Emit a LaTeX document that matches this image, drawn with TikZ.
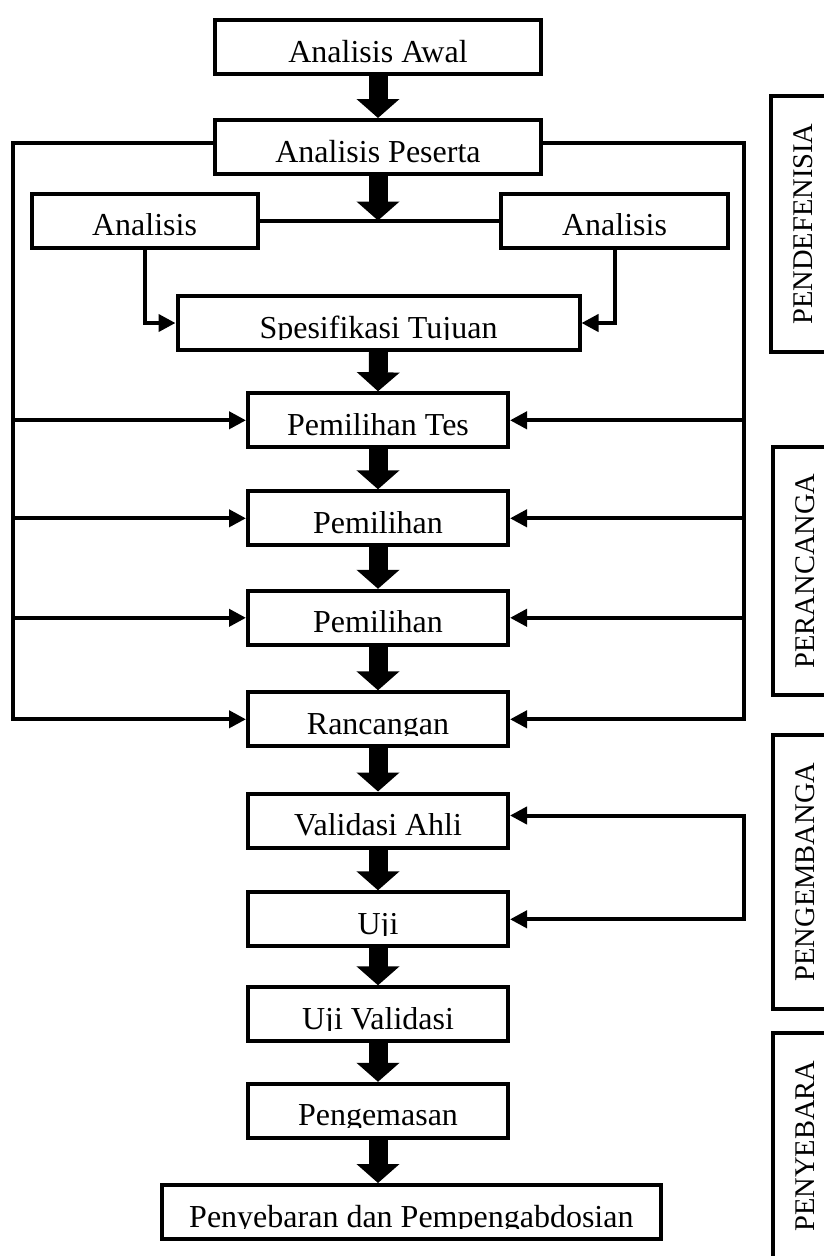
\documentclass[tikz,border=0pt]{standalone}
\usepackage{fontspec}
\setmainfont{Liberation Serif}
\usepackage{trimclip}
\usetikzlibrary{arrows.meta}

% text cut just below its baseline, as in the boxes of the figure
\newcommand{\boxtext}[1]{\clipbox{0pt 7.5pt 0pt 0pt}{\rule[-9pt]{0pt}{9pt}#1}}

\begin{document}
\begin{tikzpicture}[x=1pt, y=-1pt, >={Triangle[length=17pt, width=17pt]},
    kotak/.style={draw, line width=4pt, inner sep=0pt, text height=42pt, text depth=12pt, font=\fontsize{32}{38}\selectfont},
    tahap/.style={draw, line width=4pt, rotate=90, inner sep=0pt, minimum height=64pt, font=\fontsize{28.5}{34}\selectfont},
    blok/.style={line width=19pt, -{Triangle[length=19pt, width=42pt]}},
    alur/.style={line width=4pt, ->}]

\clip (0,0) rectangle (824,1256);

% main chain
\node[kotak, minimum width=326pt] (awal) at (378,47) {\boxtext{Analisis Awal}};
\node[kotak, minimum width=326pt] (peserta) at (378,147) {\boxtext{Analisis Peserta}};
\node[kotak, minimum width=226pt] (anaL) at (144.5,220.5) {\boxtext{Analisis}};
\node[kotak, minimum width=227pt] (anaR) at (614.5,220.5) {\boxtext{Analisis}};
\node[kotak, minimum width=402pt] (spes) at (378.5,323) {\boxtext{Spesifikasi Tujuan}};
\node[kotak, minimum width=260pt] (tes) at (378,420.3) {\boxtext{Pemilihan Tes}};
\node[kotak, minimum width=260pt] (pil1) at (378,518.3) {\boxtext{Pemilihan}};
\node[kotak, minimum width=260pt] (pil2) at (378,617.8) {\boxtext{Pemilihan}};
\node[kotak, minimum width=260pt] (ranc) at (378,719.3) {\boxtext{Rancangan}};
\node[kotak, minimum width=260pt] (valid) at (378,820.5) {\boxtext{Validasi Ahli}};
\node[kotak, minimum width=260pt] (uji) at (378,919.3) {\boxtext{Uji}};
\node[kotak, minimum width=260pt] (ujiv) at (378,1014.3) {\boxtext{Uji Validasi}};
\node[kotak, minimum width=260pt] (kemas) at (378,1110.8) {\boxtext{Pengemasan}};
\node[kotak, minimum width=499pt] (sebar) at (411.4,1212) {\boxtext{Penyebaran dan Pempengabdosian}};

% big arrows
\draw[blok] (awal.south) -- (peserta.north);
\coordinate (tengah) at (peserta.south |- anaL.east);
\draw[line width=4pt] (anaL.east) -- (anaR.west);
\draw[blok] (peserta.south) -- (tengah);
\draw[blok] (spes.south) -- (tes.north);
\draw[blok] (tes.south) -- (pil1.north);
\draw[blok] (pil1.south) -- (pil2.north);
\draw[blok] (pil2.south) -- (ranc.north);
\draw[blok] (ranc.south) -- (valid.north);
\draw[blok] (valid.south) -- (uji.north);
\draw[blok] (uji.south) -- (ujiv.north);
\draw[blok] (ujiv.south) -- (kemas.north);
\draw[blok] (kemas.south) -- (kemas.south |- sebar.north);

% analisis into spesifikasi
\draw[alur] (anaL.south) |- (spes.west);
\draw[alur] (anaR.south) |- (spes.east);

% outer loops
\coordinate (loopL) at (13,0);
\coordinate (loopR) at (744,0);
\draw[alur] ([yshift=4pt]peserta.west) -| (loopL |- ranc.west) -- (ranc.west);
\draw[alur] ([yshift=4pt]peserta.east) -| (loopR |- ranc.east) -- (ranc.east);
\foreach \n in {tes,pil1,pil2} {
  \draw[alur] (loopL |- \n.west) -- (\n.west);
  \draw[alur] (loopR |- \n.east) -- (\n.east);
}

% feedback
\draw[line width=4pt, <->] ([yshift=5pt]valid.east) -| (loopR |- uji.east) -- (uji.east);

% phases
\node[tahap, minimum width=256pt] (def) at (803,224) {PENDEFENISIA};
\node[tahap, minimum width=248pt] (desain) at (805,571) {PERANCANGA};
\node[tahap, minimum width=274pt] (kembang) at (805,872) {PENGEMBANGA};
\node[tahap, minimum width=226pt] (sebarL) at (805,1146) {PENYEBARA};
\end{tikzpicture}
\end{document}
